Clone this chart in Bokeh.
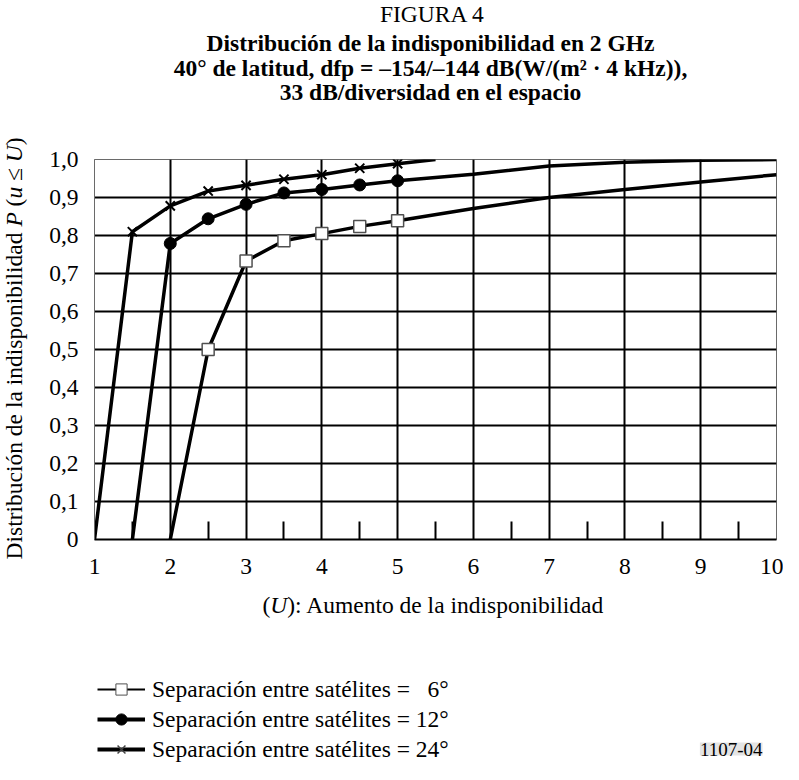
import math
from bokeh.plotting import figure
from bokeh.layouts import column, row
from bokeh.models import Range1d, FixedTicker, Label, Legend, LegendItem, ColumnDataSource
from bokeh.embed import file_html
from bokeh.resources import INLINE

FONT = "Liberation Serif"

# ---------------- data ----------------
x_ticks = [1, 2, 3, 4, 5, 6, 7, 8, 9, 10]
x_minor_ticks = [1.5, 2.5, 3.5, 4.5, 5.5, 6.5, 7.5, 8.5, 9.5]
y_ticks = [0.0, 0.1, 0.2, 0.3, 0.4, 0.5, 0.6, 0.7, 0.8, 0.9, 1.0]
y_tick_labels = ["0", "0,1", "0,2", "0,3", "0,4", "0,5", "0,6", "0,7", "0,8", "0,9", "1,0"]

series_labels = ["Separación entre satélites = \u20076°",
                 "Separación entre satélites = 12°",
                 "Separación entre satélites = 24°"]

# 6 degrees (open squares)
x_6 = [2.0, 2.5, 3.0, 3.5, 4.0, 4.5, 5.0, 6.0, 7.0, 8.0, 9.0, 10.0]
y_6 = [0.0, 0.50, 0.733, 0.786, 0.805, 0.824, 0.839, 0.871, 0.900, 0.921, 0.941, 0.960]
m_6 = [False, True, True, True, True, True, True, False, False, False, False, False]

# 12 degrees (filled circles)
x_12 = [1.5, 2.0, 2.5, 3.0, 3.5, 4.0, 4.5, 5.0, 6.0, 7.0, 8.0, 9.0, 10.0]
y_12 = [0.0, 0.779, 0.844, 0.882, 0.912, 0.921, 0.933, 0.944, 0.961, 0.983, 0.993, 0.998, 1.0]
m_12 = [False, True, True, True, True, True, True, True, False, False, False, False, False]

# 24 degrees (crosses)
x_24 = [1.0, 1.5, 2.0, 2.5, 3.0, 3.5, 4.0, 4.5, 5.0, 5.5]
y_24 = [0.0, 0.810, 0.878, 0.917, 0.932, 0.948, 0.960, 0.977, 0.989, 1.0]
m_24 = [False, True, True, True, True, True, True, True, True, False]

title_top = "FIGURA 4"
title_lines = ["Distribución de la indisponibilidad en 2 GHz",
               "40° de latitud, dfp = \u2013154/\u2013144 dB(W/(m² · 4 kHz)),",
               "33 dB/diversidad en el espacio"]
fig_code = "1107-04"

# ---------------- layout sizes (px, canvas coordinates from top-left) ----------------
W = 783
TOP_MAIN = 120            # top of the plot row
H_MAIN = 469
W_YLAB = 30
BOT_TOP = TOP_MAIN + H_MAIN
H_BOTTOM = 764 - BOT_TOP
FS = 23.5
K_BASE = 0.34             # empirical shift of Label alphabetic baseline (em)


def blank(w, h):
    f = figure(width=w, height=h, min_border=0, x_range=Range1d(0, w), y_range=Range1d(0, h),
               x_axis_location=None, y_axis_location=None, output_backend="svg",
               toolbar_location=None, background_fill_color="white", border_fill_color="white",
               frame_align=False)
    f.outline_line_color = None
    f.grid.visible = False
    return f


def htext(f, f_top, f_h, x, y_base, text, size=FS, style="normal", align="left", **kw):
    sy = (f_top + f_h) - (y_base - K_BASE * size)
    f.add_layout(Label(x=x, y=sy, x_units="screen", y_units="screen", text=text,
                       text_font=FONT, text_font_size=f"{size}px", text_font_style=style,
                       text_align=align, text_baseline="alphabetic",
                       text_color="black", **kw))


# ---------------- title block ----------------
pt = blank(W, TOP_MAIN)
htext(pt, 0, TOP_MAIN, 432, 21, title_top, size=23.5, align="center")
for txt, yb in zip(title_lines, [50, 75, 99]):
    htext(pt, 0, TOP_MAIN, 430, yb, txt, size=23.5, style="bold", align="center")

# ---------------- y-axis title block (rotated, mixed roman / italic) ----------------
py = blank(W_YLAB, H_MAIN)
ylab = [("Distribución de la indisponibilidad", "normal", 0.0),
        ("P", "italic", 14.165),
        ("(", "normal", 15.026),
        ("u", "italic", 15.359),
        ("\u2264", "normal", 16.109),
        ("U", "italic", 16.908),
        (")", "normal", 17.630)]
ylab_start = (TOP_MAIN + H_MAIN) - 559.0   # text starts (bottom) at canvas y = 559
for txt, st, em in ylab:
    py.add_layout(Label(x=13, y=ylab_start + em * FS, x_units="screen", y_units="screen",
                        text=txt, angle=math.pi / 2, text_font=FONT, text_font_size=f"{FS}px",
                        text_font_style=st, text_align="left", text_baseline="alphabetic",
                        text_color="black"))

# ---------------- main plot ----------------
p = figure(frame_width=682, frame_height=380,
           min_border_left=64, min_border_right=7,
           min_border_top=39, min_border_bottom=H_MAIN - 39 - 380,
           x_range=Range1d(1, 10), y_range=Range1d(0, 1),
           output_backend="svg", toolbar_location=None, frame_align=False,
           background_fill_color="white", border_fill_color="white")
p.outline_line_color = "#6a6a6a"
p.outline_line_width = 1

xa = p.xaxis[0]
xa.ticker = FixedTicker(ticks=x_ticks, minor_ticks=x_minor_ticks)
xa.major_tick_in = 0
xa.major_tick_out = 0
xa.minor_tick_in = 18
xa.minor_tick_out = 0
xa.minor_tick_line_width = 2
xa.minor_tick_line_color = "black"
xa.axis_line_width = 2
xa.axis_line_color = "black"
xa.major_label_text_font = FONT
xa.major_label_text_font_size = f"{FS}px"
xa.major_label_text_color = "black"
xa.major_label_standoff = 19

ya = p.yaxis[0]
ya.ticker = FixedTicker(ticks=y_ticks)
ya.major_label_overrides = {t: s for t, s in zip(y_ticks, y_tick_labels)}
ya.major_tick_in = 0
ya.major_tick_out = 0
ya.minor_tick_in = 0
ya.minor_tick_out = 0
ya.axis_line_color = "#6a6a6a"
ya.axis_line_width = 1
ya.major_label_text_font = FONT
ya.major_label_text_font_size = f"{FS}px"
ya.major_label_text_color = "black"
ya.major_label_standoff = 16

p.xgrid.ticker = FixedTicker(ticks=x_ticks[1:])
p.xgrid.grid_line_color = "black"
p.xgrid.grid_line_width = 2
p.ygrid.ticker = FixedTicker(ticks=y_ticks[1:-1])
p.ygrid.grid_line_color = "black"
p.ygrid.grid_line_width = 2


def sub(xs, ys, mask):
    return [a for a, k in zip(xs, mask) if k], [b for b, k in zip(ys, mask) if k]


LW = 3.5
p.line(x_6, y_6, line_color="black", line_width=LW)
p.line(x_12, y_12, line_color="black", line_width=LW)
p.line(x_24, y_24, line_color="black", line_width=LW)

mx, my = sub(x_6, y_6, m_6)
p.scatter(mx, my, marker="square", size=12, fill_color="white", line_color="#505050", line_width=1.5)
mx, my = sub(x_12, y_12, m_12)
p.scatter(mx, my, marker="circle", size=12, fill_color="black", line_color="black")
mx, my = sub(x_24, y_24, m_24)
p.scatter(mx, my, marker="x", size=13, line_color="black", line_width=2)

# ---------------- bottom block: x title, legend, figure code ----------------
pb = blank(W, H_BOTTOM)
xlab = [("(", "normal", 0.0), ("U", "italic", 0.333), ("): Aumento de la indisponibilidad", "normal", 1.055)]
for txt, st, em in xlab:
    htext(pb, BOT_TOP, H_BOTTOM, 262 + em * FS, 612, txt, style=st)

nan = float("nan")
swatch = lambda: ColumnDataSource(data=dict(x=[nan], y=[nan]))   # legend-only renderers
l6 = pb.line("x", "y", source=swatch(), line_color="black", line_width=2)
s6 = pb.scatter("x", "y", source=swatch(), marker="square", size=10, fill_color="white", line_color="#505050", line_width=1)
l12 = pb.line("x", "y", source=swatch(), line_color="black", line_width=4)
s12 = pb.scatter("x", "y", source=swatch(), marker="circle", size=10, fill_color="black", line_color="black")
l24 = pb.line("x", "y", source=swatch(), line_color="black", line_width=4)
s24 = pb.scatter("x", "y", source=swatch(), marker="x", size=8, line_color="#444444", line_width=1.5)

# legend rows centred at canvas y = 689, 719, 749
legend = Legend(items=[LegendItem(label=series_labels[0], renderers=[l6, s6]),
                       LegendItem(label=series_labels[1], renderers=[l12, s12]),
                       LegendItem(label=series_labels[2], renderers=[l24, s24])],
                location=(97, (BOT_TOP + H_BOTTOM) - 763), orientation="vertical",
                label_text_font=FONT, label_text_font_size=f"{FS}px", label_text_color="black",
                glyph_width=48, glyph_height=28, label_height=28, spacing=2,
                padding=0, margin=0, label_standoff=7,
                border_line_color=None, background_fill_alpha=0)
pb.add_layout(legend)

htext(pb, BOT_TOP, H_BOTTOM, 762, 755, fig_code, size=19, align="right",
      background_fill_color="#e4e4e4", background_fill_alpha=1.0)

layout = column(pt, row(py, p), pb)
open("out.html", "w").write(file_html(layout, INLINE))
